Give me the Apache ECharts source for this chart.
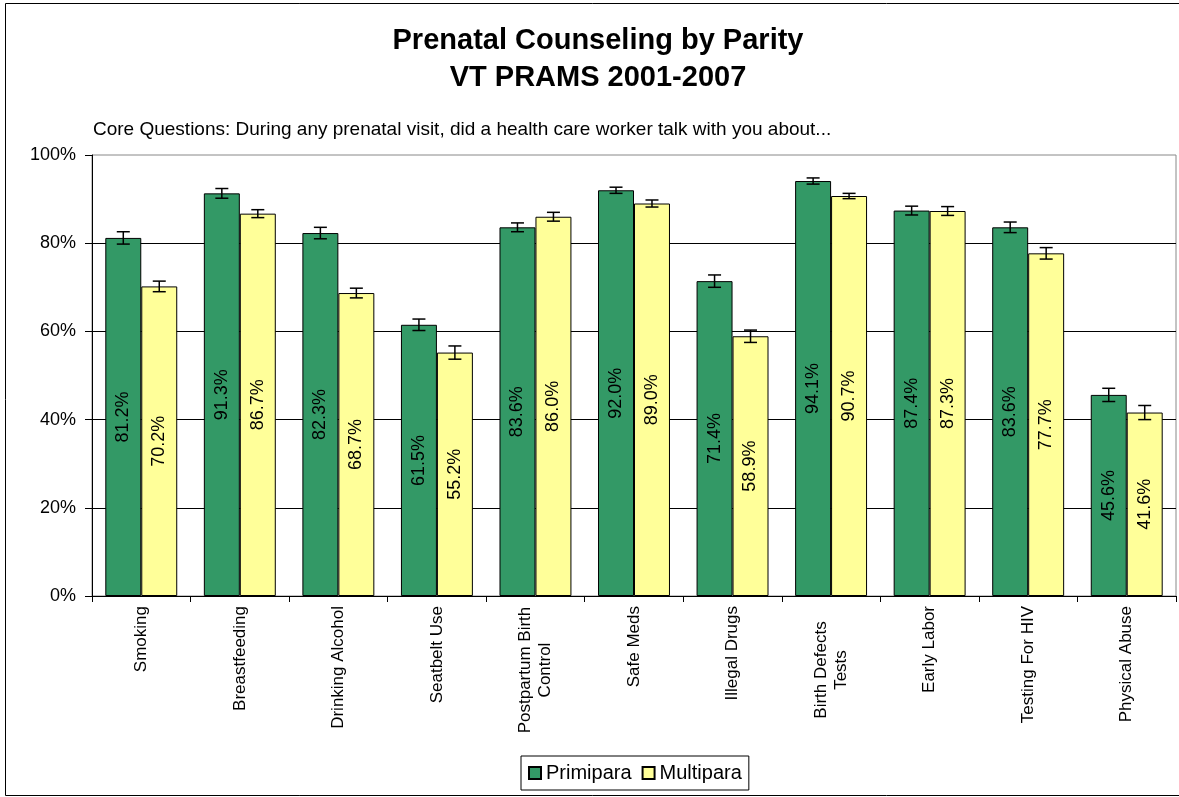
<!DOCTYPE html>
<html>
<head>
<meta charset="utf-8">
<script src="https://cdn.jsdelivr.net/npm/echarts@6/dist/echarts.min.js"></script>
<style>html,body{margin:0;padding:0;background:#fff;}#c{width:1179px;height:797px;}</style>
</head>
<body>
<div id="c"></div>
<script>
var categories = ['Smoking','Breastfeeding','Drinking Alcohol','Seatbelt Use','Postpartum Birth\nControl','Safe Meds','Illegal Drugs','Birth Defects\nTests','Early Labor','Testing For HIV','Physical Abuse'];
var primipara = [81.2, 91.3, 82.3, 61.5, 83.6, 92.0, 71.4, 94.1, 87.4, 83.6, 45.6];
var multipara = [70.2, 86.7, 68.7, 55.2, 86.0, 89.0, 58.9, 90.7, 87.3, 77.7, 41.6];
var primiErr = [1.4, 1.1, 1.3, 1.3, 1.0, 0.7, 1.4, 0.7, 1.0, 1.2, 1.5];
var multiErr = [1.2, 0.9, 1.1, 1.5, 1.0, 0.8, 1.4, 0.6, 1.0, 1.3, 1.6];
var yTicks = [0, 20, 40, 60, 80, 100];

var GAP = 0.27;
var chart = echarts.init(document.getElementById('c'));

function errData(vals, errs) {
  return vals.map(function (v, i) { return [i, v - errs[i], v + errs[i]]; });
}
function errSeries(name, vals, errs, side) {
  return {
    type: 'custom',
    name: name + ' err',
    z: 5,
    silent: true,
    data: errData(vals, errs),
    renderItem: function (params, api) {
      var idx = api.value(0);
      var lo = api.coord([idx, api.value(1)]);
      var hi = api.coord([idx, api.value(2)]);
      var band = api.size([1, 0])[0];
      var bw = band * (1 - GAP) / 2;
      var x = lo[0] + side * bw / 2;
      var cap = 6.5;
      var st = { stroke: '#000', lineWidth: 1.5 };
      return {
        type: 'group',
        children: [
          { type: 'line', shape: { x1: x, y1: lo[1], x2: x, y2: hi[1] }, style: st },
          { type: 'line', shape: { x1: x - cap, y1: lo[1], x2: x + cap, y2: lo[1] }, style: st },
          { type: 'line', shape: { x1: x - cap, y1: hi[1], x2: x + cap, y2: hi[1] }, style: st }
        ]
      };
    }
  };
}
var labelCfg = {
  show: true, position: 'inside', rotate: 90,
  color: '#000', fontFamily: 'Arial, Liberation Sans', fontSize: 18,
  formatter: function (p) { return p.value.toFixed(1) + '%'; }
};

chart.setOption({
  animation: false,
  backgroundColor: '#fff',
  graphic: [{
    type: 'rect', shape: { x: 5.5, y: 3.5, width: 1190, height: 792 },
    style: { fill: 'none', stroke: '#000', lineWidth: 1 }, z: -1, silent: true
  }],
  title: [{
    text: 'Prenatal Counseling by Parity\nVT PRAMS 2001-2007',
    left: 593, top: 17, textAlign: 'center',
    textStyle: { fontFamily: 'Arial, Liberation Sans', fontWeight: 'bold', fontSize: 29, lineHeight: 37, color: '#000' }
  }, {
    text: 'Core Questions: During any prenatal visit, did a health care worker talk with you about...',
    left: 93, top: 120, padding: 0,
    textStyle: { fontFamily: 'Arial, Liberation Sans', fontWeight: 'normal', fontSize: 19, color: '#000' }
  }],
  legend: {
    bottom: 7, left: 521,
    data: ['Primipara', 'Multipara'],
    itemWidth: 12, itemHeight: 12, itemGap: 10,
    borderColor: '#000', borderWidth: 1, padding: [7, 7, 7, 7],
    textStyle: { fontFamily: 'Arial, Liberation Sans', fontSize: 20, color: '#000', padding: [0, 0, 0, 0] },
    icon: 'rect'
  },
  grid: {
    left: 92, right: 3, top: 155, bottom: 201,
    show: true, borderColor: '#888', borderWidth: 1, containLabel: false
  },
  xAxis: {
    type: 'category', data: categories,
    axisLine: { lineStyle: { color: '#000', width: 1 } },
    axisTick: { show: true, length: 6, lineStyle: { color: '#000' } },
    axisLabel: {
      rotate: 90, interval: 0, margin: 10, color: '#000',
      fontFamily: 'Arial, Liberation Sans', fontSize: 17,
      formatter: function (v) {
        if (v.indexOf('\n') >= 0) {
          return v.split('\n').map(function (s) { return '{c|' + s + '}'; }).join('\n');
        }
        return v;
      },
      rich: { c: { width: 128, align: 'center', fontFamily: 'Arial, Liberation Sans', fontSize: 17, color: '#000', lineHeight: 20 } }
    }
  },
  yAxis: {
    type: 'value', min: 0, max: 100, interval: 20,
    axisLine: { show: true, lineStyle: { color: '#000', width: 1 } },
    axisTick: { show: true, length: 7, lineStyle: { color: '#000' } },
    axisLabel: {
      color: '#000', fontFamily: 'Arial, Liberation Sans', fontSize: 18, margin: 16,
      formatter: function (v) { return v + '%'; }
    },
    splitLine: { show: true, showMaxLine: false, lineStyle: { color: '#000', width: 1 } }
  },
  series: [{
    name: 'Primipara', type: 'bar', data: primipara,
    barGap: '0%', barCategoryGap: (GAP * 100) + '%',
    itemStyle: { color: '#339966', borderColor: '#000', borderWidth: 1 },
    label: labelCfg
  }, {
    name: 'Multipara', type: 'bar', data: multipara,
    itemStyle: { color: '#FFFF99', borderColor: '#000', borderWidth: 1 },
    label: labelCfg
  },
  errSeries('Primipara', primipara, primiErr, -1),
  errSeries('Multipara', multipara, multiErr, 1)
  ]
});
</script>
</body>
</html>
